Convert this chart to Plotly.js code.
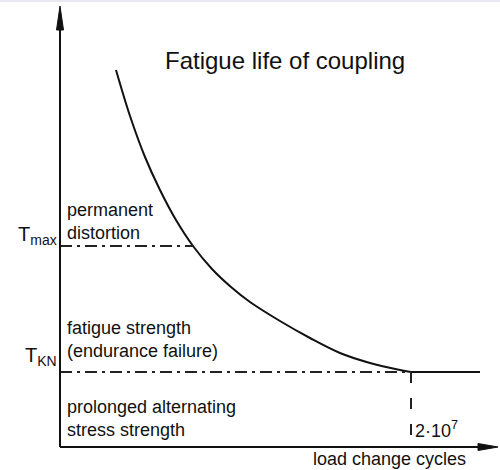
<!DOCTYPE html>
<html>
<head>
<meta charset="utf-8">
<script src="https://cdn.plot.ly/plotly-3.0.1.min.js"></script>
<style>
  html, body { margin: 0; padding: 0; background: #ffffff; }
  #chart { width: 500px; height: 470px; }
</style>
</head>
<body>
<div id="chart"></div>
<script>
// ---- data (schematic units: load-change cycles on x, torque on y) ----
const curveX = [56, 70, 85, 100, 116, 133, 152, 171, 190, 220, 250, 280, 310, 340, 351];
const curveY = [377, 331, 290, 257, 227, 201, 178, 160, 145, 126, 109, 94, 84, 77, 75];
const plateauX = [351, 420];
const levelLabels = ['T<sub>max</sub>', 'T<sub>KN</sub>'];
const levelValues = [201, 75];
const levelEndX = [133, 351];
const enduranceCycles = 351;
const enduranceLabel = '2·10<sup>7</sup>';
const regionLabels = ['permanent<br>distortion', 'fatigue strength<br>(endurance failure)', 'prolonged alternating<br>stress strength'];
const regionY = [226, 108, 29];
const titleText = 'Fatigue life of coupling';
const xAxisLabel = 'load change cycles';

// ---- layout constants ----
const FONT = '"Liberation Sans", Arial, Helvetica, sans-serif';
const yTop = 441;      // y-axis arrow tip
const xRight = 438;    // x-axis arrow tip
const dashDot = '12px,5px,3px,5px';
const labelOffsets = [11, 16];

const traces = [
  { x: curveX, y: curveY, mode: 'lines', line: { color: '#111', width: 2, shape: 'spline', smoothing: 1 }, hoverinfo: 'skip' },
  { x: plateauX, y: [levelValues[1], levelValues[1]], mode: 'lines', line: { color: '#111', width: 2 }, hoverinfo: 'skip' }
];
levelValues.forEach((v, i) => {
  traces.push({ x: [0, levelEndX[i]], y: [v, v], mode: 'lines', line: { color: '#222', width: 2, dash: dashDot }, hoverinfo: 'skip' });
});
traces.push({ x: [enduranceCycles, enduranceCycles], y: [levelValues[1], 12], mode: 'lines', line: { color: '#222', width: 2, dash: '11px,15px' }, hoverinfo: 'skip' });

const shapes = [
  // top lavender strip
  { type: 'rect', xref: 'paper', yref: 'paper', x0: 0, x1: 1, y0: 1 - 2 / 470, y1: 1, fillcolor: '#e8e8f2', line: { width: 0 } },
  // axes
  { type: 'line', x0: 0, x1: 0, y0: 0, y1: yTop - 20, line: { color: '#111', width: 2 } },
  { type: 'line', x0: 0, x1: xRight - 18, y0: 0, y1: 0, line: { color: '#111', width: 2 } },
  // arrowheads
  { type: 'path', path: `M 0,${yTop} L -3.5,${yTop - 24} L 3.5,${yTop - 24} Z`, fillcolor: '#111', line: { color: '#111', width: 1 } },
  { type: 'path', path: `M ${xRight},0 L ${xRight - 20},3.5 L ${xRight - 20},-3.5 Z`, fillcolor: '#111', line: { color: '#111', width: 1 } }
];

const annotations = [
  { x: 225, y: 387, text: titleText, showarrow: false, xanchor: 'center', yanchor: 'middle', font: { family: FONT, size: 24, color: '#111' } },
  { x: 329, y: -12, text: xAxisLabel, showarrow: false, xanchor: 'center', yanchor: 'middle', font: { family: FONT, size: 18, color: '#111' } },
  { x: enduranceCycles + 2, y: 18, text: enduranceLabel, showarrow: false, xanchor: 'left', yanchor: 'middle', font: { family: FONT, size: 18, color: '#111' } }
];
regionLabels.forEach((t, i) => {
  annotations.push({ x: 5, y: regionY[i], text: t, showarrow: false, xanchor: 'left', yanchor: 'middle', align: 'left', font: { family: FONT, size: 18, color: '#111' } });
});
levelLabels.forEach((t, i) => {
  annotations.push({ x: -1, y: levelValues[i] + labelOffsets[i], text: t, showarrow: false, xanchor: 'right', yanchor: 'middle', font: { family: FONT, size: 20, color: '#111' } });
});

const layout = {
  width: 500, height: 470,
  margin: { l: 0, r: 0, t: 0, b: 0 },
  paper_bgcolor: '#ffffff', plot_bgcolor: '#ffffff',
  showlegend: false,
  xaxis: { range: [-60, 440], visible: false, fixedrange: true },
  yaxis: { range: [-23, 447], visible: false, fixedrange: true },
  shapes: shapes,
  annotations: annotations
};

Plotly.newPlot('chart', traces, layout, { staticPlot: true, displayModeBar: false });
</script>
</body>
</html>
